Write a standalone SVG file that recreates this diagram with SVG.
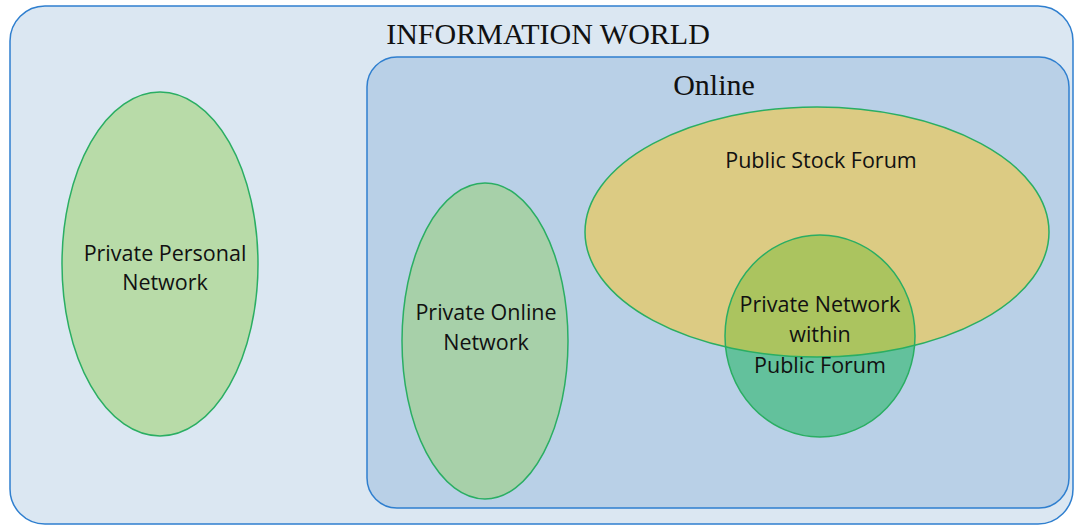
<svg xmlns="http://www.w3.org/2000/svg" width="1075" height="526" viewBox="0 0 1075 526">
<style>
.frame{stroke:#2f7fcf;stroke-width:1.5}
.ell{stroke:#2aae63;stroke-width:1.5}
.title{font-family:"Liberation Serif",serif;font-size:30px;fill:#111;text-anchor:middle}
.lbl{font-family:"Open Sans","Liberation Sans",sans-serif;font-size:21.5px;fill:#111;text-anchor:middle}
</style>
<defs>
<clipPath id="clipPSF"><ellipse cx="817" cy="232" rx="232" ry="125"/></clipPath>
</defs>
<rect width="1075" height="526" fill="#ffffff"/>
<g id="information-world">
<rect class="frame" x="10" y="6" width="1063" height="518" rx="35" fill="#dbe7f2"/>
<text class="title" x="548" y="44">INFORMATION WORLD</text>
</g>
<g id="online">
<rect class="frame" x="367" y="57" width="702" height="451" rx="30" fill="#b9d0e7"/>
<text class="title" x="714" y="95" font-size="28">Online</text>
</g>
<g id="private-personal-network">
<ellipse class="ell" cx="160" cy="264" rx="98" ry="172" fill="#b8dba8"/>
<text class="lbl" x="165" y="261">Private Personal</text>
<text class="lbl" x="165" y="290">Network</text>
</g>
<g id="private-online-network">
<ellipse class="ell" cx="485" cy="341" rx="83" ry="158" fill="#a7d0a9"/>
<text class="lbl" x="486" y="320">Private Online</text>
<text class="lbl" x="486" y="350">Network</text>
</g>
<g id="public-stock-forum">
<ellipse cx="817" cy="232" rx="232" ry="125" fill="#dccb83"/>
<text class="lbl" x="821" y="168">Public Stock Forum</text>
</g>
<g id="private-network-within-public-forum">
<ellipse cx="820" cy="336" rx="95" ry="101" fill="#63c19c"/>
<ellipse cx="820" cy="336" rx="95" ry="101" fill="#abc45f" clip-path="url(#clipPSF)"/>
<ellipse class="ell" cx="817" cy="232" rx="232" ry="125" fill="none"/>
<ellipse class="ell" cx="820" cy="336" rx="95" ry="101" fill="none"/>
<text class="lbl" x="820" y="312">Private Network</text>
<text class="lbl" x="820" y="342">within</text>
<text class="lbl" x="820" y="373">Public Forum</text>
</g>
<g id="connectors"></g>
</svg>
